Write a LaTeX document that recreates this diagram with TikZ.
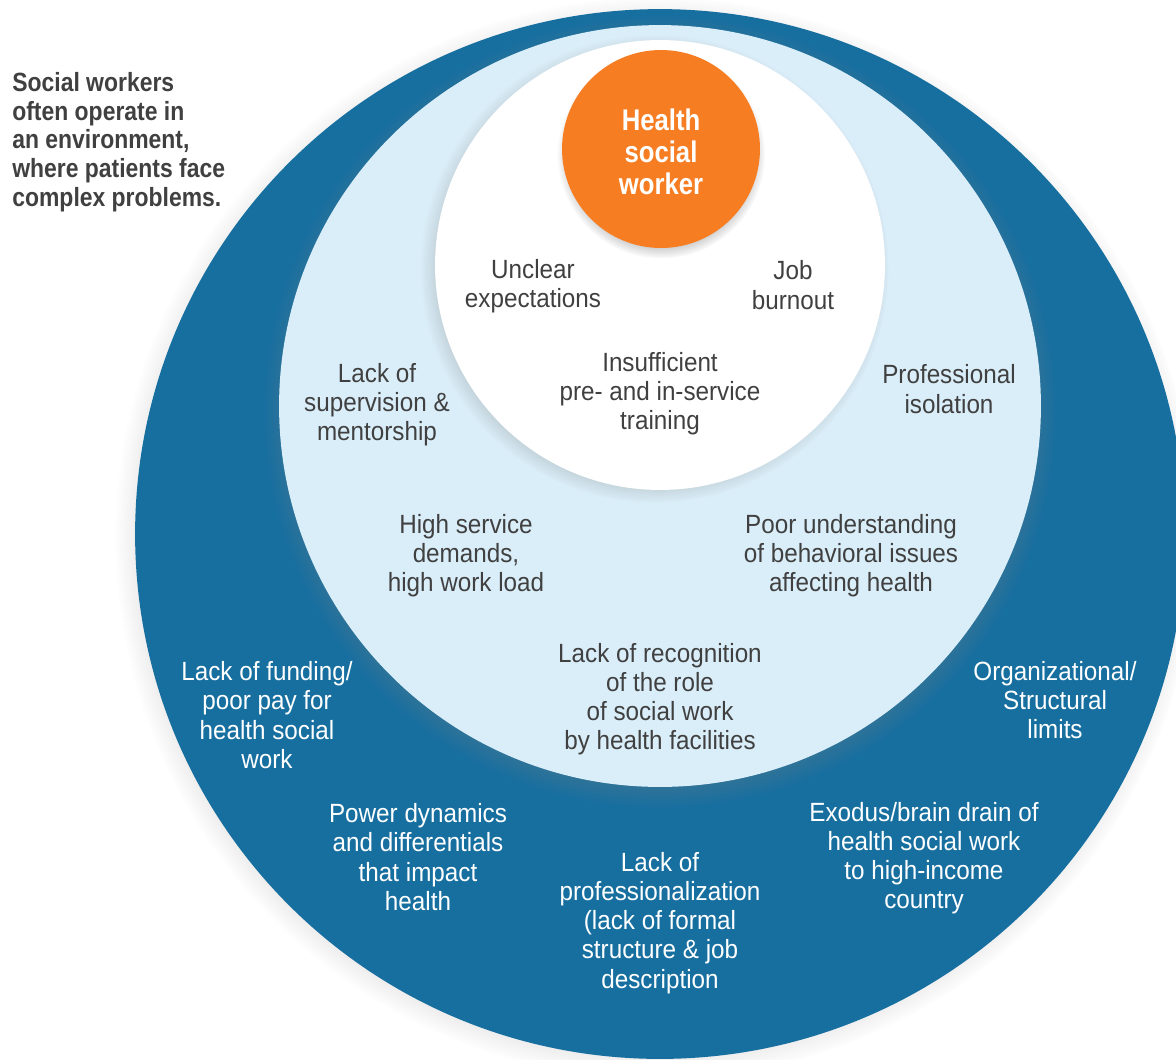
\documentclass[tikz,border=0pt]{standalone}
\usepackage{fontspec}
\setmainfont{Liberation Sans}[FakeStretch=0.92]
\newfontfamily\headfont{Liberation Sans}[FakeStretch=0.87]
\newfontfamily\hubfont{Liberation Sans}[FakeStretch=0.86]
\usetikzlibrary{shadows}
\definecolor{ringblue}{HTML}{176FA0}
\definecolor{paleblue}{HTML}{DAEEF9}
\definecolor{hsworange}{HTML}{F77D22}
\definecolor{txtgray}{HTML}{404040}
\begin{document}
\begin{tikzpicture}[x=0.02cm,y=-0.02cm,
		ring/.style={circle,inner sep=0pt,draw=none},
		inlabel/.style={align=center,inner sep=0pt,text=txtgray,font=\fontsize{15}{16.6}\selectfont},
		outlabel/.style={align=center,inner sep=0pt,text=white,font=\fontsize{15}{16.6}\selectfont}]
		\useasboundingbox (0,0) rectangle (1176,1059);
		% rings
		\node[ring,fill=ringblue,minimum size=21cm,circular drop shadow={shadow xshift=-2pt,shadow yshift=-2pt,shadow scale=1.03,opacity=0.5}](env) at (660,534){};
		\node[ring,fill=paleblue,minimum size=15.24cm,circular drop shadow={shadow xshift=0pt,shadow yshift=-3pt,shadow scale=1.04,opacity=0.6}](org) at (660,406){};
		\node[ring,fill=white,minimum size=9cm,circular drop shadow={shadow xshift=-3pt,shadow yshift=-2pt,shadow scale=1.04,opacity=0.5}](self) at (660,265){};
		\node[ring,fill=hsworange,minimum size=3.96cm,circular drop shadow={shadow xshift=0pt,shadow yshift=-3pt,shadow scale=1.05,opacity=0.5}](hsw) at (661,149){};
		\node[align=center,inner sep=0pt,text=white,font=\hubfont\bfseries\fontsize{17}{18.2}\selectfont](hswtext) at (661,152){Health\\social\\worker};
		% caption
		\node[anchor=west,align=left,inner sep=0pt,text=txtgray,font=\headfont\bfseries\fontsize{15}{16.4}\selectfont](note) at (12,142){Social workers\\often operate in\\an environment,\\where patients face\\complex problems.};
		% inner circle
		\node[inlabel](unclear) at (533,286){Unclear\\expectations};
		\node[inlabel](burnout) at (793,285){Job\\burnout};
		\node[inlabel](training) at (660,394){Insufficient\\pre- and in-service\\training};
		% middle ring
		\node[inlabel](supervision) at (377,405){Lack of\\supervision \&\\mentorship};
		\node[inlabel](isolation) at (949,389){Professional\\isolation};
		\node[inlabel](demands) at (466,556){High service\\demands,\\high work load};
		\node[inlabel](behaviour) at (851,556){Poor understanding\\of behavioral issues\\affecting health};
		\node[inlabel](recognition) at (660,699){Lack of recognition\\of the role\\of social work\\by health facilities};
		% outer ring
		\node[outlabel](funding) at (267,715){Lack of funding/\\poor pay for\\health social\\work};
		\node[outlabel](limits) at (1055,700){Organizational/\\Structural\\limits};
		\node[outlabel](power) at (418,857){Power dynamics\\and differentials\\that impact\\health};
		\node[outlabel](professional) at (660,923){Lack of\\professionalization\\(lack of formal\\structure \& job\\description};
		\node[outlabel](exodus) at (924,858){Exodus/brain drain of\\health social work\\to high-income\\country};
	\end{tikzpicture}
\end{document}
